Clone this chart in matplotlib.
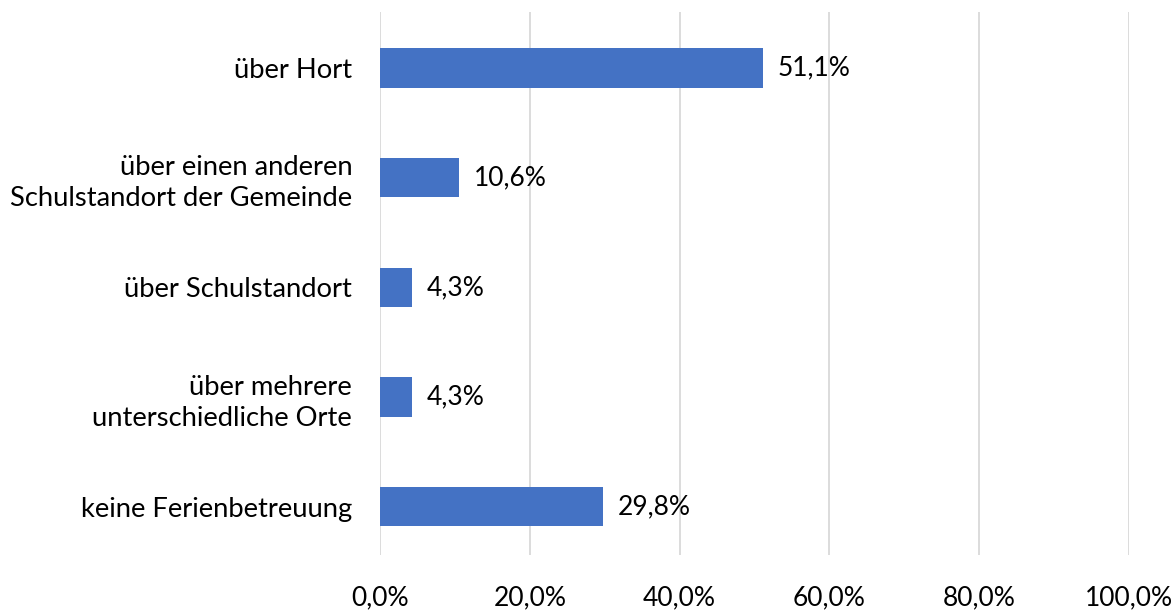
import matplotlib
matplotlib.use("Agg")
import matplotlib.pyplot as plt

categories = ["keine Ferienbetreuung",
              "über mehrere\nunterschiedliche Orte",
              "über Schulstandort",
              "über einen anderen\nSchulstandort der Gemeinde",
              "über Hort"]
values = [29.8, 4.3, 4.3, 10.6, 51.1]
xticks = [0, 20, 40, 60, 80, 100]
xticklabels = ["0,0%", "20,0%", "40,0%", "60,0%", "80,0%", "100,0%"]

FS = 19
plt.rcParams['font.family'] = ['Lato', 'DejaVu Sans']
fig = plt.figure(figsize=(11.76, 6.12), dpi=100)
ax = fig.add_axes([380/1176, 57/612, 749/1176, 543/612])

ypos = list(range(len(categories)))
ax.barh(ypos, values, height=0.36, color="#4472C4", zorder=3)
for y, v in zip(ypos, values):
    ax.text(v + 2.0, y, f"{v:.1f}%".replace(".", ","), va="center", ha="left",
            fontsize=FS, color="#000000")

ax.set_xlim(0, 100)
ax.set_ylim(-0.44, 4.51)
ax.set_xticks(xticks)
ax.set_xticklabels(xticklabels, fontsize=FS)
ax.set_yticks(ypos)
ax.set_yticklabels(categories, fontsize=19.7, linespacing=1.3)
ax.tick_params(axis="x", length=0, pad=22)
ax.tick_params(axis="y", length=0, pad=20)
ax.grid(axis="x", color="#d9d9d9", linewidth=1.3, zorder=0)
for s in ax.spines.values():
    s.set_visible(False)

fig.savefig("out.png", dpi=100)
